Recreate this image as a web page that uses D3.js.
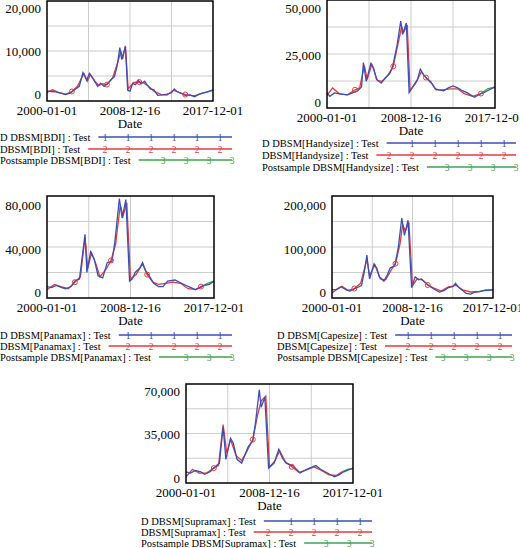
<!DOCTYPE html>
<html><head><meta charset="utf-8">
<script src="https://cdn.jsdelivr.net/npm/d3@7"></script>
<style>body{margin:0;background:#fff}svg text{font-family:"Liberation Serif","DejaVu Serif",serif}</style>
</head><body><svg id="c" width="520" height="548" font-family="Liberation Serif, serif"></svg>
<script>
const xTickLabels=["2000-01-01","2008-12-16","2017-12-01"];
const xTickYears=[2000,2009,2018];
const names=["BDI","Handysize","Panamax","Capesize","Supramax"];
const yTicks=[[0,10000,20000],[0,25000,50000],[0,40000,80000],[0,100000,200000],[0,35000,70000]];
const blueBDI=[[2000,700],[2000.5,600],[2001,500],[2001.5,200],[2002,-100],[2002.5,200],[2003,1000],[2003.5,1800],[2003.9,5000],[2004.3,3200],[2004.6,4800],[2005,3500],[2005.5,1800],[2005.8,2500],[2006.2,1800],[2006.6,2500],[2007,3500],[2007.3,4000],[2007.6,6500],[2007.9,10800],[2008.1,8000],[2008.3,9500],[2008.5,11000],[2008.75,900],[2009,700],[2009.3,2500],[2009.6,2200],[2009.9,3200],[2010.2,2400],[2010.6,3000],[2010.9,2000],[2011.2,1200],[2011.6,1000],[2012,-300],[2012.5,-200],[2013,0],[2013.5,300],[2013.8,1200],[2014.1,600],[2014.5,200],[2015,-300],[2015.5,-200],[2016,-600],[2016.5,0],[2017,300],[2017.5,600],[2018,1000]];
const redBDI=[[2000,400],[2000.6,1000],[2001.2,400],[2002,0],[2002.7,600],[2003.3,1800],[2004,4800],[2004.4,3000],[2004.7,4600],[2005.2,3000],[2005.6,2000],[2006,2400],[2006.5,2200],[2007.1,3700],[2007.7,7500],[2008,10000],[2008.2,8200],[2008.5,11200],[2008.8,1200],[2009.4,2700],[2010,2800],[2010.5,2600],[2011,1800],[2011.6,700],[2012.4,-100],[2013,-200],[2013.7,900],[2014.3,400],[2015,-100],[2016,-400],[2016.8,200]];
const greenBDI=[[2016.8,200],[2017.4,500],[2018,900]];
const blueHandy=[[2000,5000],[2000.3,3000],[2000.8,4800],[2001.5,4200],[2002.2,3800],[2002.8,5000],[2003.3,6000],[2003.7,8000],[2003.9,21000],[2004.2,11000],[2004.7,20500],[2005,18000],[2005.3,12000],[2005.8,10000],[2006.3,13000],[2006.7,15000],[2007,18000],[2007.5,30000],[2007.9,43000],[2008.1,36000],[2008.5,42000],[2008.8,5000],[2009.3,9000],[2009.7,12000],[2010,17500],[2010.4,14000],[2010.8,12000],[2011.2,10000],[2011.6,7000],[2012,6500],[2012.5,6000],[2013,7500],[2013.5,8500],[2014,7500],[2014.5,6000],[2015,5000],[2015.8,2500],[2016.3,4000],[2016.8,5000],[2017.4,6500],[2018,8000]];
const redHandy=[[2000,3500],[2000.6,7500],[2001.3,4500],[2002.2,3800],[2003,6500],[2003.5,7500],[2004,19500],[2004.3,12000],[2004.8,20000],[2005.4,11500],[2005.9,11000],[2006.5,14000],[2007.1,19000],[2007.7,33000],[2008,40000],[2008.2,37000],[2008.6,41000],[2008.9,6000],[2009.5,10000],[2010.1,16000],[2010.6,13000],[2011.1,11000],[2011.7,6500],[2012.5,6500],[2013.2,7000],[2014,7000],[2014.7,4500],[2015.6,3000],[2016.5,4500]];
const greenHandy=[[2016.5,4500],[2017.2,7000],[2018,8000]];
const bluePana=[[2000,5000],[2000.5,4000],[2001,6000],[2001.6,4000],[2002,3000],[2002.6,5000],[2003,10000],[2003.5,12000],[2004.1,53000],[2004.3,18000],[2004.7,37000],[2005.1,30000],[2005.5,15000],[2006,13000],[2006.5,27000],[2007,28000],[2007.3,45000],[2007.8,86000],[2008.1,68000],[2008.5,85000],[2008.9,10000],[2009.2,12000],[2009.5,18000],[2010,22000],[2010.3,27000],[2010.6,20000],[2011,15000],[2011.5,8000],[2012,5000],[2012.5,5000],[2013,10000],[2013.8,11000],[2014.5,8000],[2015,6000],[2015.5,4000],[2016,2000],[2016.5,4000],[2017,6000],[2017.5,7000],[2018,10000]];
const redPana=[[2000,2000],[2000.8,7000],[2001.5,5000],[2002.3,3000],[2003,9000],[2003.6,14000],[2004.1,50000],[2004.4,22000],[2004.8,36000],[2005.3,25000],[2005.7,14000],[2006.3,20000],[2006.9,29000],[2007.4,44000],[2007.9,80000],[2008.2,70000],[2008.6,82000],[2009,12000],[2009.6,16000],[2010.3,26000],[2010.8,16000],[2011.4,9000],[2012,7000],[2012.8,8000],[2013.6,9000],[2014.4,8000],[2015.2,3000],[2016,2500],[2016.6,5000]];
const greenPana=[[2016.6,5000],[2017.3,8000],[2018,10000]];
const blueCape=[[2000,5000],[2000.5,6000],[2001,12000],[2001.6,5000],[2002,2000],[2002.6,8000],[2003.3,15000],[2003.6,45000],[2003.9,85000],[2004.2,30000],[2004.7,65000],[2005,55000],[2005.3,35000],[2005.8,25000],[2006.2,40000],[2006.5,55000],[2007,60000],[2007.4,100000],[2007.8,170000],[2008.1,130000],[2008.5,165000],[2008.9,10000],[2009.3,35000],[2009.7,28000],[2010,30000],[2010.5,20000],[2011,12000],[2011.3,8000],[2012,0],[2012.5,3000],[2013,10000],[2013.5,12000],[2013.8,20000],[2014.2,10000],[2014.5,5000],[2015,-3000],[2015.5,-5000],[2016,0],[2016.5,1000],[2017,3000],[2017.5,4000],[2018,5000]];
const redCape=[[2000,-2000],[2000.5,5000],[2001.1,13000],[2001.8,4000],[2002.5,8000],[2003.2,20000],[2003.9,75000],[2004.2,38000],[2004.8,62000],[2005.4,30000],[2006,28000],[2006.6,50000],[2007.1,65000],[2007.6,110000],[2007.9,155000],[2008.2,140000],[2008.6,160000],[2009,14000],[2009.5,30000],[2010.1,28000],[2010.7,16000],[2011.4,9000],[2012.2,2000],[2013,12000],[2013.9,15000],[2014.6,5000],[2015.5,0],[2016.4,1000]];
const greenCape=[[2016.4,1000],[2017.2,5000],[2018,5000]];
const blueSupra=[[2000,5000],[2000.5,4000],[2001,6000],[2001.6,5000],[2002,3000],[2002.6,5000],[2003,8000],[2003.6,12000],[2004,41000],[2004.3,15000],[2004.8,32000],[2005.1,28000],[2005.5,15000],[2006,12000],[2006.7,25000],[2007.2,30000],[2007.5,45000],[2007.9,71000],[2008.1,57000],[2008.5,65000],[2008.9,8000],[2009.5,12000],[2010,23000],[2010.4,16000],[2010.8,12000],[2011.5,10000],[2012.3,4000],[2013,7000],[2014,10000],[2014.5,7000],[2015,5000],[2015.5,3000],[2016,1000],[2016.5,2500],[2017,5000],[2017.5,6500],[2018,8000]];
const redSupra=[[2000,1000],[2000.7,7000],[2001.4,4000],[2002.2,4000],[2003,8000],[2003.5,10000],[2004,43000],[2004.4,20000],[2004.8,31000],[2005.4,18000],[2006,14000],[2006.6,22000],[2007.2,31000],[2007.7,50000],[2008.1,62000],[2008.6,66000],[2009,9000],[2009.6,14000],[2010.1,22000],[2010.7,13000],[2011.4,9000],[2012.2,4500],[2013,6500],[2013.8,9000],[2014.6,6000],[2015.4,2500],[2016.2,2000],[2016.8,5000]];
const greenSupra=[[2016.8,5000],[2017.4,7000],[2018,7500]];
const blues=[blueBDI,blueHandy,bluePana,blueCape,blueSupra];
const reds=[redBDI,redHandy,redPana,redCape,redSupra];
const greens=[greenBDI,greenHandy,greenPana,greenCape,greenSupra];

const panels=[
 {x0:47,x1:213,y0:1,y1:101,yMin:-1600,yMax:21600,leg:[137,149,160],legX:0,legEnd:232},
 {x0:327,x1:495,y0:0,y1:108,yMin:-3191,yMax:54255,leg:[143,155,167],legX:262,legEnd:516},
 {x0:47,x1:214,y0:196,y1:298,yMin:-5517,yMax:88276,leg:[335,346,357],legX:0,legEnd:232},
 {x0:332,x1:493,y0:196,y1:298,yMin:-13793,yMax:220690,leg:[335,346,357],legX:277,legEnd:512},
 {x0:186,x1:353,y0:384,y1:483,yMin:-4023,yMax:75632,leg:[521,532,543],legX:141,legEnd:372}
];
const colors=["#3b4fb0","#e03c3c","#3ca54a"];
const svg=d3.select("#c");
panels.forEach((p,i)=>{
  const x=d3.scaleLinear().domain([2000,2018]).range([p.x0,p.x1]);
  const y=d3.scaleLinear().domain([p.yMin,p.yMax]).range([p.y1,p.y0]);
  const g=svg.append("g");
  const w=p.x1-p.x0,h=p.y1-p.y0;
  [1,2,3].forEach(k=>{
    g.append("line").attr("x1",p.x0+w*k/4).attr("x2",p.x0+w*k/4).attr("y1",p.y0).attr("y2",p.y1).attr("stroke","#ccc");
    g.append("line").attr("y1",p.y0+h*k/4).attr("y2",p.y0+h*k/4).attr("x1",p.x0).attr("x2",p.x1).attr("stroke","#ccc");
  });
  const line=d3.line().x(d=>x(d[0])).y(d=>y(d[1]));
  g.append("clipPath").attr("id","cp"+i).append("rect").attr("x",p.x0).attr("y",p.y0).attr("width",w).attr("height",h);
  const series=[greens[i],reds[i],blues[i]];
  const cols=[colors[2],colors[1],colors[0]];
  series.forEach((s,j)=>{
    g.append("path").datum(s).attr("d",line).attr("fill","none").attr("stroke",cols[j]).attr("stroke-width",1.3).attr("clip-path","url(#cp"+i+")");
  });
  reds[i].filter((d,k)=>k%8===4).forEach(d=>{
    g.append("circle").attr("cx",x(d[0])).attr("cy",y(d[1])).attr("r",2.5).attr("fill","none").attr("stroke",colors[1]).attr("stroke-width",1);
  });
  g.append("rect").attr("x",p.x0).attr("y",p.y0).attr("width",w).attr("height",h).attr("fill","none").attr("stroke","#000").attr("stroke-width",1.5);
  yTicks[i].forEach(t=>{
    g.append("text").attr("x",p.x0-6).attr("y",y(t)+5).attr("text-anchor","end").attr("font-size",13).text(d3.format(",")(t));
  });
  xTickYears.forEach((t,k)=>{
    g.append("text").attr("x",x(t)).attr("y",p.y1+14).attr("text-anchor","middle").attr("font-size",13).text(xTickLabels[k]);
  });
  g.append("text").attr("x",(p.x0+p.x1)/2).attr("y",p.y1+27).attr("text-anchor","middle").attr("font-size",13).text("Date");
  const labels=["D DBSM["+names[i]+"] : Test","DBSM["+names[i]+"] : Test","Postsample DBSM["+names[i]+"] : Test"];
  const lm=["1","2","3"];
  labels.forEach((L,k)=>{
    const t=g.append("text").attr("x",p.legX).attr("y",p.leg[k]+4).attr("font-size",10.5).text(L);
    const tw=t.node().getComputedTextLength();
    const sx=p.legX+tw+8;
    g.append("line").attr("x1",sx).attr("x2",p.legEnd).attr("y1",p.leg[k]).attr("y2",p.leg[k]).attr("stroke",colors[k]).attr("stroke-width",1.3);
    for(let m=0;m<6;m++){
      const mx=p.legEnd-m*23-(k===2?0:12);
      if(mx<sx+6)break;
      g.append("text").attr("x",mx).attr("y",p.leg[k]+3.5).attr("text-anchor","middle").attr("font-size",9.5).attr("fill",colors[k]).text(lm[k]);
    }
  });
});
</script></body></html>
